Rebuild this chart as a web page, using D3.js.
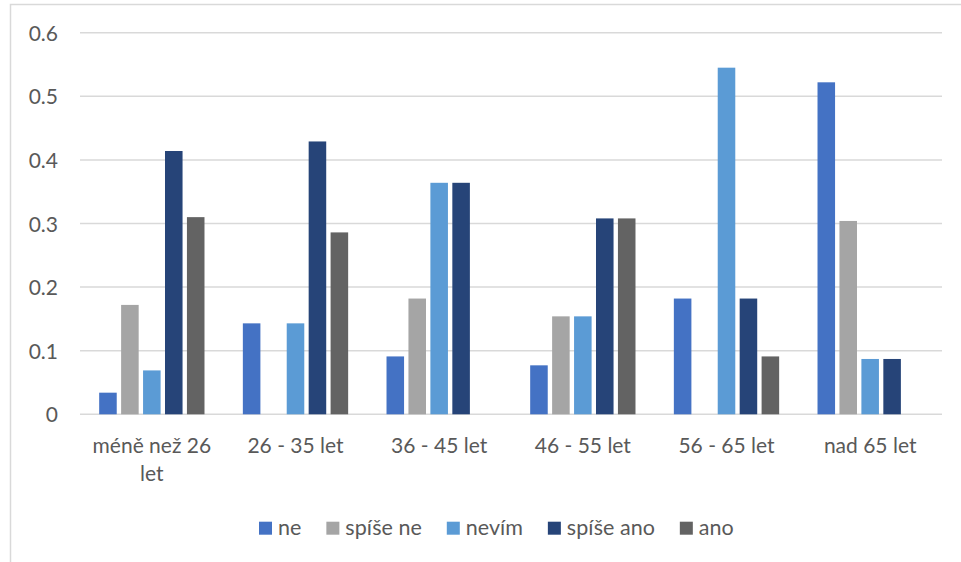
<!DOCTYPE html>
<html>
<head>
<meta charset="utf-8">
<script src="https://cdn.jsdelivr.net/npm/d3@7"></script>
<style>
  body { margin: 0; background: #fff; }
  text { font-family: Lato, "Open Sans", sans-serif; fill: #595959; }
</style>
</head>
<body>
<div id="chart"></div>
<script>
// categories and series
var categories = ["méně než 26 let", "26 - 35 let", "36 - 45 let", "46 - 55 let", "56 - 65 let", "nad 65 let"];
var seriesNames = ["ne", "spíše ne", "nevím", "spíše ano", "ano"];
var colors = ["#4472C4", "#A5A5A5", "#5B9BD5", "#264478", "#636363"];

var ne       = [0.034, 0.143, 0.091, 0.077, 0.182, 0.522];
var spiseNe  = [0.172, 0,     0.182, 0.154, 0,     0.304];
var nevim    = [0.069, 0.143, 0.364, 0.154, 0.545, 0.087];
var spiseAno = [0.414, 0.429, 0.364, 0.308, 0.182, 0.087];
var ano      = [0.310, 0.286, 0,     0.308, 0.091, 0];

var yTicks = [0, 0.1, 0.2, 0.3, 0.4, 0.5, 0.6];

var allSeries = [ne, spiseNe, nevim, spiseAno, ano];

var width = 961, height = 562;

var svg = d3.select("#chart")
    .append("svg")
    .attr("width", width)
    .attr("height", height);

// chart border (only top and left are visible in the shot)
svg.append("rect")
    .attr("x", 10.5)
    .attr("y", 4.5)
    .attr("width", 1000)
    .attr("height", 600)
    .attr("fill", "none")
    .attr("stroke", "#D9D9D9")
    .attr("stroke-width", 1.5);

var x0 = d3.scaleBand()
    .domain(categories)
    .range([80, 942])
    .paddingInner(0.267)
    .paddingOuter(0.1335);

var x1 = d3.scaleBand()
    .domain(seriesNames)
    .range([0, x0.bandwidth()])
    .paddingInner(0.2);

var y = d3.scaleLinear()
    .domain([0, 0.6])
    .range([414.3, 32.7]);

// gridlines
svg.append("g")
    .selectAll("line")
    .data(yTicks)
    .enter()
    .append("line")
    .attr("x1", 80)
    .attr("x2", 942)
    .attr("y1", function(d) { return y(d); })
    .attr("y2", function(d) { return y(d); })
    .attr("stroke", "#D9D9D9")
    .attr("stroke-width", 1.5);

// y labels
var yAxis = d3.axisLeft(y)
    .tickValues(yTicks)
    .tickSize(0)
    .tickPadding(0)
    .tickFormat(function(d) { return d === 0 ? "0" : d3.format(".1f")(d); });

var yg = svg.append("g")
    .attr("transform", "translate(58,0)")
    .call(yAxis);
yg.select(".domain").remove();
yg.selectAll("text")
    .attr("font-family", null)
    .style("font-size", "21px")
    .attr("dy", "0.36em");

// bars
var groups = svg.append("g")
    .selectAll("g")
    .data(categories)
    .enter()
    .append("g")
    .attr("transform", function(d) { return "translate(" + x0(d) + ",0)"; });

groups.selectAll("rect")
    .data(function(d, ci) {
        return seriesNames.map(function(s, si) {
            return { series: s, value: allSeries[si][ci], color: colors[si] };
        });
    })
    .enter()
    .filter(function(d) { return d.value > 0; })
    .append("rect")
    .attr("x", function(d) { return x1(d.series); })
    .attr("width", x1.bandwidth())
    .attr("y", function(d) { return y(d.value); })
    .attr("height", function(d) { return y(0) - y(d.value); })
    .attr("fill", function(d) { return d.color; });

// category labels with wrapping
var xAxis = d3.axisBottom(x0).tickSize(0).tickPadding(0);
var xg = svg.append("g")
    .attr("transform", "translate(0," + 414.3 + ")")
    .call(xAxis);
xg.select(".domain").remove();
xg.selectAll("text")
    .attr("font-family", null)
    .style("font-size", "21px")
    .attr("y", 39)
    .attr("dy", null)
    .call(wrap, 136);

function wrap(texts, maxW) {
    texts.each(function() {
        var text = d3.select(this);
        var words = text.text().split(" ");
        text.text(null);
        var line = [];
        var tspan = text.append("tspan").attr("x", 0).attr("dy", 0);
        words.forEach(function(w) {
            line.push(w);
            tspan.text(line.join(" "));
            if (tspan.node().getComputedTextLength() > maxW && line.length > 1) {
                line.pop();
                tspan.text(line.join(" "));
                line = [w];
                tspan = text.append("tspan").attr("x", 0).attr("dy", 28).text(w);
            }
        });
    });
}

// legend
var legend = svg.append("g").attr("transform", "translate(259,0)");
var lx = 0;
seriesNames.forEach(function(s, i) {
    var item = legend.append("g").attr("transform", "translate(" + lx + ",0)");
    item.append("rect")
        .attr("x", 0)
        .attr("y", 521.7)
        .attr("width", 13)
        .attr("height", 13)
        .attr("fill", colors[i]);
    var t = item.append("text")
        .attr("x", 19)
        .attr("y", 535)
        .style("font-size", "21.5px")
        .text(s);
    lx += 19 + t.node().getComputedTextLength() + 25;
});
</script>
</body>
</html>
